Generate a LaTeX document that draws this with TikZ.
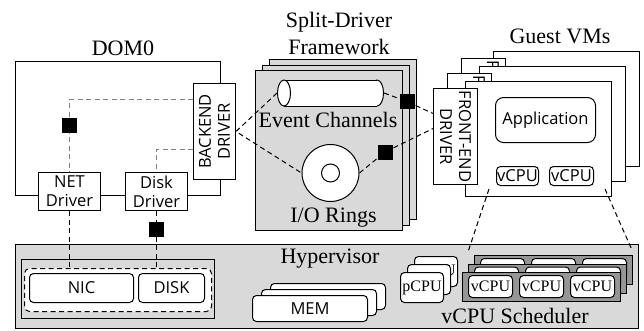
\documentclass[tikz,border=0pt]{standalone}
\usepackage{fontspec}
\setmainfont{Liberation Serif}
\newfontfamily\sansf{Open Sans}
\usepackage{tikz}
\usetikzlibrary{shapes.geometric}
\definecolor{hvgray}{RGB}{217,217,217}
\definecolor{schgray}{RGB}{150,150,150}
\definecolor{dashgray}{RGB}{128,128,128}

\tikzset{
  box/.style={draw, line width=1pt, fill=white, inner sep=0pt, anchor=north west},
  rbox/.style={box, rounded corners=4pt},
  sans/.style={font=\sansf\fontsize{16.5}{19}\selectfont, inner sep=0pt, align=center},
  serif/.style={font=\fontsize{22}{27}\selectfont, inner sep=0pt, align=center},
  small/.style={font=\fontsize{16}{19}\selectfont},
  ddash/.style={line width=1pt, dash pattern=on 5pt off 3.5pt},
  gdash/.style={ddash, draw=dashgray},
  blk/.style={fill=black, minimum size=15pt, inner sep=0pt},
  pbox/.style={rbox, small, minimum width=43pt, minimum height=30pt},
  schbox/.style={box, fill=schgray, minimum width=158pt, minimum height=29pt},
  svbox/.style={rbox, small, minimum width=44pt, minimum height=22pt},
}

\begin{document}
\begin{tikzpicture}[x=1pt,y=-1pt]
    \useasboundingbox (0,0) rectangle (644,330);

    % DOM0
    \node[box, minimum width=205pt, minimum height=134pt] (dom0) at (15,61) {};
    \node[serif, anchor=base] (dom0lbl) at (123,55) {DOM0};
    \node[box, minimum width=42pt, minimum height=96pt] (backend) at (193,83) {};
    \node[sans, rotate=90] (backendlbl) at (backend.center) {BACKEND\\DRIVER};
    \node[box, sans, minimum width=62pt, minimum height=38pt] (netdrv) at (38,172) {NET\\Driver};
    \node[box, sans, minimum width=62pt, minimum height=38pt] (diskdrv) at (125,172) {Disk\\Driver};

    % hypervisor
    \node[box, fill=hvgray, minimum width=623pt, minimum height=84pt] (hyper) at (15,244) {};
    \node[serif, anchor=base] (hyperlbl) at (330,263) {Hypervisor};
    \node[box, fill=hvgray, minimum width=193pt, minimum height=59pt] (devouter) at (21,259) {};
    \node[box, ddash, rounded corners=5pt, minimum width=187pt, minimum height=43pt] (devbox) at (24,268) {};
    \node[rbox, sans, minimum width=104pt, minimum height=29pt] (nic) at (29,273) {NIC};
    \node[rbox, sans, minimum width=66pt, minimum height=29pt] (disk) at (138,273) {DISK};

    \node[rbox, minimum width=115pt, minimum height=26pt] (mem3) at (270,283) {};
    \node[rbox, minimum width=115pt, minimum height=26pt] (mem2) at (261,289) {};
    \node[rbox, sans, minimum width=115pt, minimum height=26pt] (mem1) at (252,295) {MEM};

    \node[pbox] (pcpu3) at (414,256) {pCPU};
    \node[pbox] (pcpu2) at (407,264) {};
    \node[pbox] (pcpu1) at (400,272) {pCPU};

    % vCPU scheduler
    \node[schbox] (sched3) at (474,255) {};
    \node[svbox] (s3a) at ([xshift=6pt,yshift=-3pt]sched3.north west) {};
    \node[svbox] (s3b) at ([xshift=57pt,yshift=-3pt]sched3.north west) {};
    \node[svbox] (s3c) at ([xshift=108pt,yshift=-3pt]sched3.north west) {};
    \node[schbox] (sched2) at (468,263.5) {};
    \node[svbox] (s2a) at ([xshift=6pt,yshift=-3pt]sched2.north west) {};
    \node[svbox] (s2b) at ([xshift=57pt,yshift=-3pt]sched2.north west) {};
    \node[svbox] (s2c) at ([xshift=108pt,yshift=-3pt]sched2.north west) {};
    \node[schbox] (sched1) at (462,272) {};
    \node[svbox] (s1a) at ([xshift=6pt,yshift=-3pt]sched1.north west) {vCPU};
    \node[svbox] (s1b) at ([xshift=57pt,yshift=-3pt]sched1.north west) {vCPU};
    \node[svbox] (s1c) at ([xshift=108pt,yshift=-3pt]sched1.north west) {vCPU};
    \node[serif, anchor=base] (schedlbl) at (515,323) {vCPU Scheduler};

    % split-driver framework
    \node[serif, anchor=north] (splitlbl) at (339,12) {Split-Driver\\Framework};
    \node[box, fill=hvgray, minimum width=147pt, minimum height=160pt] (page3) at (269,59) {};
    \node[box, fill=hvgray, minimum width=147pt, minimum height=160pt] (page2) at (262,64.5) {};
    \node[box, fill=hvgray, minimum width=147pt, minimum height=160pt] (page1) at (255,70) {};
    \node[ellipse, draw, line width=1pt, fill=white, minimum width=13pt, minimum height=26pt, inner sep=0pt] (evright) at (377,93) {};
    \fill[white] (284,80) rectangle (377,106);
    \draw[line width=1pt] (284,80) -- (377,80) (284,106) -- (377,106);
    \node[ellipse, draw, line width=1pt, fill=white, minimum width=13pt, minimum height=26pt, inner sep=0pt] (evleft) at (284,93) {};
    \node[serif, anchor=base] (evlbl) at (328,127) {Event Channels};
    \node[circle, draw, line width=1pt, fill=white, minimum size=57pt, inner sep=0pt] (ioring) at (330.5,173) {};
    \node[circle, draw, line width=1pt, fill=white, minimum size=18pt, inner sep=0pt] (iohole) at (ioring.center) {};
    \node[serif, anchor=base] (iolbl) at (333.5,222) {I/O Rings};

    % guest VMs
    \node[serif, anchor=base] (guestlbl) at (560,43) {Guest VMs};
    \node[box, minimum width=146pt, minimum height=115pt] (vm3) at (493,51) {};
    \node[box, minimum width=44pt, minimum height=96pt] (fe3) at (461,58) {};
    \node[sans, rotate=-90] (fe3lbl) at (fe3.center) {FRONT-END\\DRIVER};
    \node[box, minimum width=146pt, minimum height=115pt] (vm2) at (479,66) {};
    \node[box, minimum width=44pt, minimum height=96pt] (fe2) at (447,73) {};
    \node[sans, rotate=-90] (fe2lbl) at (fe2.center) {FRONT-END\\DRIVER};
    \node[box, minimum width=146pt, minimum height=115pt] (vm1) at (465,81) {};
    \node[box, minimum width=44pt, minimum height=96pt] (fe1) at (433,88) {};
    \node[sans, rotate=-90] (fe1lbl) at (fe1.center) {FRONT-END\\DRIVER};
    \node[box, sans, rounded corners=8pt, minimum width=100pt, minimum height=45pt] (app) at (495,97) {Application};
    \node[rbox, sans, minimum width=42pt, minimum height=19pt] (vcpua) at (496,166) {vCPU};
    \node[rbox, sans, minimum width=44pt, minimum height=19pt] (vcpub) at (549,166) {vCPU};

    % connectors
    \coordinate (netsqc) at (69,125);
    \coordinate (disksqc) at (156,229);
    \coordinate (evsqc) at (407,101.5);
    \coordinate (iosqc) at (385,152);
    \draw[gdash] ([yshift=-16pt]backend.north west) -| (netdrv.north);
    \draw[gdash] ([yshift=-66pt]backend.north west) -| (diskdrv.north);
    \draw[ddash] (netdrv.south) -- (netdrv.south |- devbox.north);
    \draw[ddash] (diskdrv.south) -- (diskdrv.south |- devbox.north);
    \draw[ddash] (evleft.west) -- (backend.east) -- (ioring.west);
    \draw[ddash] (evright.east) -- (evsqc) -- ([yshift=23pt]fe1.west);
    \draw[ddash] (ioring.east) -- (iosqc) -- ([yshift=8pt]fe1.west);
    \draw[ddash] ([xshift=-7pt,yshift=-3pt]vcpua.south west) -- ([xshift=-6pt,yshift=3pt]sched3.north west);
    \draw[ddash] ([xshift=11pt,yshift=-3pt]vcpub.south east) -- ([xshift=-1pt,yshift=5pt]sched3.north east);
    \node[blk] (netsq) at (netsqc) {};
    \node[blk] (disksq) at (disksqc) {};
    \node[blk] (evsq) at (evsqc) {};
    \node[blk] (iosq) at (iosqc) {};
\end{tikzpicture}
\end{document}
